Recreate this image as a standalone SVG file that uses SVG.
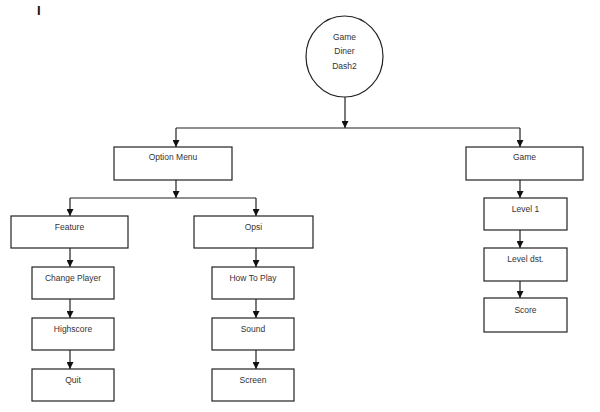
<svg xmlns="http://www.w3.org/2000/svg" width="600" height="412" viewBox="0 0 600 412">
  <defs>
    <marker id="arr" viewBox="0 0 8 8" refX="8" refY="4" markerWidth="7" markerHeight="7" markerUnits="userSpaceOnUse" orient="auto">
      <path d="M0,0 L8,4 L0,8 Z" fill="#111"/>
    </marker>
  </defs>
  <style>
    .box { fill: #fff; stroke: #222; stroke-width: 1.2; }
    .lbl { font-family: "Liberation Sans", Arial, sans-serif; font-size: 8.5px; fill: #333; text-anchor: middle; }
    .ln { fill: none; stroke: #222; stroke-width: 1.2; }
    .ar { fill: none; stroke: #222; stroke-width: 1.2; marker-end: url(#arr); }
  </style>
  <rect width="600" height="412" fill="#fff"/>
  <text x="37" y="15" font-family="Liberation Sans, Arial, sans-serif" font-size="13" font-weight="bold" fill="#111">I</text>

  <g id="connectors">
    <path class="ar" d="M345,97 V128"/>
    <path class="ln" d="M176,128 H520"/>
    <path class="ar" d="M176,128 V147"/>
    <path class="ar" d="M520,128 V147"/>
    <path class="ar" d="M176,180 V198"/>
    <path class="ln" d="M70,198 H256"/>
    <path class="ar" d="M70,198 V216"/>
    <path class="ar" d="M256,198 V216"/>
    <path class="ar" d="M70,248 V267"/>
    <path class="ar" d="M70,299 V318"/>
    <path class="ar" d="M70,350 V369"/>
    <path class="ar" d="M256,248 V267"/>
    <path class="ar" d="M256,299 V318"/>
    <path class="ar" d="M256,350 V369"/>
    <path class="ar" d="M520,180 V198"/>
    <path class="ar" d="M520,230 V248"/>
    <path class="ar" d="M520,281 V298"/>
  </g>

  <g id="root">
    <ellipse class="box" cx="344.5" cy="56.5" rx="38.5" ry="40.5"/>
    <text class="lbl" x="344.5" y="40">Game</text>
    <text class="lbl" x="344.5" y="54">Diner</text>
    <text class="lbl" x="344.5" y="69">Dash2</text>
  </g>
  <g id="option-menu">
    <rect class="box" x="114" y="147" width="118" height="33"/>
    <text class="lbl" x="173" y="160">Option Menu</text>
  </g>
  <g id="game">
    <rect class="box" x="466" y="147" width="117" height="33"/>
    <text class="lbl" x="524.5" y="160">Game</text>
  </g>
  <g id="feature">
    <rect class="box" x="11" y="216" width="117" height="32"/>
    <text class="lbl" x="69.5" y="230">Feature</text>
  </g>
  <g id="opsi">
    <rect class="box" x="194" y="216" width="119" height="32"/>
    <text class="lbl" x="253.5" y="230">Opsi</text>
  </g>
  <g id="change-player">
    <rect class="box" x="32" y="267" width="82" height="32"/>
    <text class="lbl" x="73" y="281">Change Player</text>
  </g>
  <g id="highscore">
    <rect class="box" x="32" y="318" width="82" height="32"/>
    <text class="lbl" x="73" y="332">Highscore</text>
  </g>
  <g id="quit">
    <rect class="box" x="32" y="369" width="82" height="32"/>
    <text class="lbl" x="73" y="383">Quit</text>
  </g>
  <g id="how-to-play">
    <rect class="box" x="212" y="267" width="82" height="32"/>
    <text class="lbl" x="253" y="281">How To Play</text>
  </g>
  <g id="sound">
    <rect class="box" x="212" y="318" width="82" height="32"/>
    <text class="lbl" x="253" y="332">Sound</text>
  </g>
  <g id="screen">
    <rect class="box" x="212" y="369" width="82" height="32"/>
    <text class="lbl" x="253" y="383">Screen</text>
  </g>
  <g id="level-1">
    <rect class="box" x="484" y="198" width="83" height="32"/>
    <text class="lbl" x="525.5" y="212">Level 1</text>
  </g>
  <g id="level-dst">
    <rect class="box" x="484" y="248" width="83" height="33"/>
    <text class="lbl" x="525.5" y="262">Level dst.</text>
  </g>
  <g id="score">
    <rect class="box" x="484" y="298" width="83" height="34"/>
    <text class="lbl" x="525.5" y="313">Score</text>
  </g>
</svg>
